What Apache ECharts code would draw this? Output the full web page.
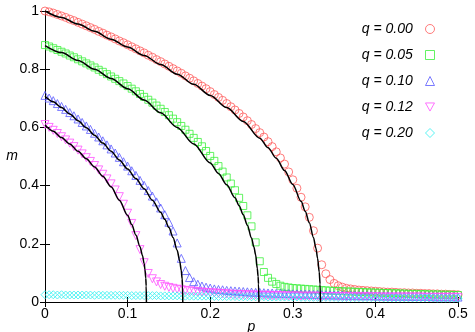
<!DOCTYPE html>
<html>
<head>
<meta charset="utf-8">
<script src="https://cdn.jsdelivr.net/npm/echarts@6/dist/echarts.min.js"></script>
<style>
  html, body { margin: 0; padding: 0; background: #fff; }
  #main { width: 475px; height: 332px; }
</style>
</head>
<body>
<div id="main"></div>
<script>
// simulation points, p sampled every 0.005
const pSim = [
  0, 0.005, 0.01, 0.015, 0.02, 0.025, 0.03, 0.035, 0.04, 0.045,
  0.05, 0.055, 0.06, 0.065, 0.07, 0.075, 0.08, 0.085, 0.09, 0.095,
  0.1, 0.105, 0.11, 0.115, 0.12, 0.125, 0.13, 0.135, 0.14, 0.145,
  0.15, 0.155, 0.16, 0.165, 0.17, 0.175, 0.18, 0.185, 0.19, 0.195,
  0.2, 0.205, 0.21, 0.215, 0.22, 0.225, 0.23, 0.235, 0.24, 0.245,
  0.25, 0.255, 0.26, 0.265, 0.27, 0.275, 0.28, 0.285, 0.29, 0.295,
  0.3, 0.305, 0.31, 0.315, 0.32, 0.325, 0.33, 0.335, 0.34, 0.345,
  0.35, 0.355, 0.36, 0.365, 0.37, 0.375, 0.38, 0.385, 0.39, 0.395,
  0.4, 0.405, 0.41, 0.415, 0.42, 0.425, 0.43, 0.435, 0.44, 0.445,
  0.45, 0.455, 0.46, 0.465, 0.47, 0.475, 0.48, 0.485, 0.49, 0.495,
  0.5
];

const mQ000 = [
  1.000, 0.997, 0.993, 0.988, 0.983, 0.978, 0.972, 0.967, 0.961, 0.955,
  0.949, 0.943, 0.937, 0.930, 0.924, 0.917, 0.911, 0.904, 0.897, 0.891,
  0.884, 0.877, 0.870, 0.863, 0.856, 0.848, 0.841, 0.833, 0.826, 0.818,
  0.810, 0.802, 0.794, 0.786, 0.777, 0.769, 0.760, 0.751, 0.742, 0.733,
  0.723, 0.713, 0.703, 0.693, 0.682, 0.671, 0.660, 0.648, 0.636, 0.623,
  0.610, 0.596, 0.582, 0.567, 0.551, 0.534, 0.516, 0.495, 0.474, 0.447,
  0.420, 0.391, 0.360, 0.327, 0.291, 0.245, 0.185, 0.128, 0.097, 0.077,
  0.064, 0.056, 0.051, 0.047, 0.045, 0.043, 0.041, 0.040, 0.039, 0.038,
  0.037, 0.036, 0.035, 0.034, 0.034, 0.033, 0.032, 0.032, 0.031, 0.031,
  0.030, 0.030, 0.029, 0.029, 0.028, 0.028, 0.027, 0.027, 0.026, 0.026,
  0.025
];

const mQ005 = [
  0.883, 0.878, 0.872, 0.866, 0.860, 0.854, 0.847, 0.841, 0.834, 0.827,
  0.820, 0.813, 0.806, 0.798, 0.791, 0.783, 0.775, 0.767, 0.759, 0.751,
  0.742, 0.733, 0.724, 0.715, 0.705, 0.695, 0.685, 0.675, 0.664, 0.653,
  0.642, 0.630, 0.618, 0.605, 0.592, 0.578, 0.564, 0.550, 0.535, 0.519,
  0.502, 0.485, 0.467, 0.448, 0.428, 0.407, 0.384, 0.358, 0.330, 0.298,
  0.260, 0.205, 0.140, 0.103, 0.083, 0.070, 0.062, 0.056, 0.052, 0.050,
  0.048, 0.047, 0.046, 0.045, 0.044, 0.043, 0.042, 0.041, 0.040, 0.039,
  0.038, 0.038, 0.037, 0.036, 0.036, 0.035, 0.034, 0.034, 0.033, 0.033,
  0.032, 0.032, 0.031, 0.031, 0.030, 0.030, 0.029, 0.029, 0.028, 0.028,
  0.028, 0.027, 0.027, 0.026, 0.026, 0.026, 0.025, 0.025, 0.025, 0.024,
  0.024
];

const mQ010 = [
  0.710, 0.701, 0.692, 0.682, 0.672, 0.662, 0.651, 0.640, 0.629, 0.617,
  0.605, 0.593, 0.580, 0.567, 0.554, 0.540, 0.526, 0.512, 0.497, 0.482,
  0.467, 0.451, 0.435, 0.418, 0.401, 0.383, 0.364, 0.344, 0.323, 0.300,
  0.274, 0.244, 0.203, 0.150, 0.108, 0.084, 0.070, 0.061, 0.055, 0.051,
  0.048, 0.045, 0.043, 0.042, 0.040, 0.039, 0.038, 0.037, 0.036, 0.035,
  0.034, 0.033, 0.033, 0.032, 0.031, 0.031, 0.030, 0.030, 0.029, 0.029,
  0.028, 0.028, 0.027, 0.027, 0.027, 0.026, 0.026, 0.025, 0.025, 0.025,
  0.024, 0.024, 0.024, 0.023, 0.023, 0.023, 0.022, 0.022, 0.022, 0.022,
  0.021, 0.021, 0.021, 0.021, 0.020, 0.020, 0.020, 0.020, 0.020, 0.019,
  0.019, 0.019, 0.019, 0.019, 0.018, 0.018, 0.018, 0.018, 0.018, 0.018,
  0.017
];

const mQ012 = [
  0.610, 0.600, 0.590, 0.579, 0.568, 0.557, 0.546, 0.534, 0.522, 0.509,
  0.496, 0.483, 0.469, 0.454, 0.439, 0.423, 0.406, 0.385, 0.362, 0.336,
  0.305, 0.270, 0.228, 0.180, 0.135, 0.098, 0.080, 0.069, 0.060, 0.054,
  0.050, 0.047, 0.044, 0.042, 0.040, 0.038, 0.037, 0.035, 0.034, 0.033,
  0.032, 0.031, 0.030, 0.029, 0.028, 0.027, 0.026, 0.026, 0.025, 0.025,
  0.024, 0.024, 0.023, 0.023, 0.023, 0.022, 0.022, 0.022, 0.021, 0.021,
  0.021, 0.021, 0.020, 0.020, 0.020, 0.020, 0.020, 0.019, 0.019, 0.019,
  0.019, 0.019, 0.019, 0.018, 0.018, 0.018, 0.018, 0.018, 0.018, 0.018,
  0.018, 0.017, 0.017, 0.017, 0.017, 0.017, 0.017, 0.017, 0.017, 0.017,
  0.017, 0.017, 0.016, 0.016, 0.016, 0.016, 0.016, 0.016, 0.016, 0.016,
  0.016
];

const mQ020 = [
  0.025, 0.025, 0.025, 0.024, 0.025, 0.024, 0.024, 0.024, 0.024, 0.024,
  0.024, 0.024, 0.023, 0.024, 0.023, 0.023, 0.023, 0.023, 0.023, 0.023,
  0.023, 0.022, 0.022, 0.022, 0.022, 0.022, 0.022, 0.022, 0.021, 0.021,
  0.021, 0.021, 0.021, 0.021, 0.020, 0.020, 0.020, 0.020, 0.020, 0.020,
  0.020, 0.019, 0.019, 0.019, 0.019, 0.019, 0.019, 0.018, 0.018, 0.018,
  0.018, 0.018, 0.018, 0.018, 0.017, 0.017, 0.017, 0.017, 0.017, 0.017,
  0.017, 0.017, 0.016, 0.016, 0.016, 0.016, 0.016, 0.016, 0.016, 0.016,
  0.016, 0.015, 0.015, 0.015, 0.015, 0.015, 0.015, 0.015, 0.015, 0.015,
  0.015, 0.015, 0.014, 0.014, 0.014, 0.014, 0.014, 0.014, 0.014, 0.014,
  0.014, 0.014, 0.014, 0.014, 0.014, 0.013, 0.013, 0.013, 0.013, 0.013,
  0.013
];

// theory curves (black)
const thP000 = [0, 0.02, 0.04, 0.06, 0.08, 0.10, 0.12, 0.14, 0.16, 0.18, 0.20, 0.22, 0.24, 0.26, 0.27, 0.28, 0.29, 0.30, 0.31, 0.315, 0.32, 0.325, 0.328, 0.33, 0.332, 0.333, 0.3335];
const thM000 = [1.000, 0.978, 0.955, 0.930, 0.903, 0.876, 0.847, 0.816, 0.783, 0.748, 0.710, 0.668, 0.620, 0.563, 0.530, 0.494, 0.452, 0.404, 0.346, 0.312, 0.272, 0.222, 0.185, 0.150, 0.103, 0.062, 0];
const thP005 = [0, 0.02, 0.04, 0.06, 0.08, 0.10, 0.12, 0.14, 0.16, 0.18, 0.20, 0.21, 0.22, 0.23, 0.235, 0.24, 0.245, 0.25, 0.253, 0.255, 0.257, 0.258, 0.2585, 0.259];
const thM005 = [0.881, 0.857, 0.830, 0.800, 0.768, 0.733, 0.694, 0.650, 0.600, 0.543, 0.478, 0.442, 0.403, 0.358, 0.331, 0.300, 0.264, 0.220, 0.188, 0.162, 0.115, 0.088, 0.062, 0];
const thP010 = [0, 0.01, 0.02, 0.03, 0.04, 0.05, 0.06, 0.07, 0.08, 0.09, 0.10, 0.11, 0.12, 0.13, 0.14, 0.145, 0.15, 0.155, 0.16, 0.163, 0.165, 0.166, 0.1665, 0.1668];
const thM010 = [0.707, 0.688, 0.668, 0.646, 0.623, 0.599, 0.573, 0.546, 0.518, 0.488, 0.457, 0.424, 0.389, 0.350, 0.308, 0.284, 0.256, 0.222, 0.178, 0.142, 0.108, 0.080, 0.055, 0];
const thP012 = [0, 0.01, 0.02, 0.03, 0.04, 0.05, 0.06, 0.07, 0.08, 0.09, 0.10, 0.105, 0.11, 0.115, 0.118, 0.12, 0.121, 0.122, 0.1225, 0.1228];
const thM012 = [0.608, 0.587, 0.565, 0.543, 0.518, 0.492, 0.464, 0.432, 0.396, 0.350, 0.298, 0.266, 0.230, 0.190, 0.160, 0.132, 0.112, 0.082, 0.055, 0];

const names = ['q = 0.00', 'q = 0.05', 'q = 0.10', 'q = 0.12', 'q = 0.20'];

const FONT = 'Liberation Sans';

function pairs(xs, ys) {
  return xs.map((x, i) => [x, ys[i]]);
}

function marks(name, ys, symbol, color, size, rotate) {
  return {
    name: name,
    type: 'scatter',
    data: pairs(pSim, ys),
    symbol: symbol,
    symbolSize: size,
    symbolRotate: rotate || 0,
    itemStyle: { color: 'rgba(0,0,0,0)', borderColor: color, borderWidth: 1 },
    z: 2
  };
}

function theory(xs, ys) {
  return {
    name: 'theory',
    type: 'line',
    data: pairs(xs, ys),
    showSymbol: false,
    smooth: 0.3,
    smoothMonotone: 'x',
    lineStyle: { color: '#000', width: 1.5 },
    z: 3
  };
}

const frame = { show: true, lineStyle: { color: '#000', width: 1 } };
const tick = { show: true, inside: true, length: 5, lineStyle: { color: '#000' } };
const label = { fontSize: 14, fontFamily: FONT, color: '#000' };
const nameStyle = { fontSize: 14, fontStyle: 'italic', fontFamily: FONT, color: '#000' };

const option = {
  animation: false,
  grid: { left: 45, right: 17, top: 11, bottom: 30, outerBoundsMode: 'none', containLabel: false },
  legend: {
    // the q = 0.12 marker points down, so its legend icon is given as a path
    data: [
      names[0], names[1], names[2],
      { name: names[3], icon: 'path://M0,0 L10,0 L5,9 Z' },
      names[4]
    ],
    orient: 'vertical',
    right: 35,
    top: 17,
    align: 'right',
    itemWidth: 9,
    itemHeight: 9,
    itemGap: 12,
    symbolKeepAspect: true,
    // two trailing spaces widen the gap between the text and the marker
    formatter: function (name) { return name + '  '; },
    textStyle: { fontSize: 14, fontStyle: 'italic', fontFamily: FONT, color: '#000' },
    itemStyle: { borderWidth: 1 }
  },
  xAxis: [
    {
      type: 'value', min: 0, max: 0.5, interval: 0.1, position: 'bottom',
      name: 'p', nameLocation: 'middle', nameGap: 18, nameMoveOverlap: false,
      nameTextStyle: nameStyle,
      axisLine: frame, axisTick: tick,
      axisLabel: Object.assign({ margin: 5 }, label),
      splitLine: { show: false }
    },
    {
      type: 'value', min: 0, max: 0.5, interval: 0.1, position: 'top',
      axisLine: frame, axisTick: tick, axisLabel: { show: false }, splitLine: { show: false }
    }
  ],
  yAxis: [
    {
      type: 'value', min: 0, max: 1, interval: 0.2, position: 'left',
      name: 'm', nameLocation: 'middle', nameGap: 27, nameRotate: 0, nameMoveOverlap: false,
      nameTextStyle: nameStyle,
      axisLine: frame, axisTick: tick,
      axisLabel: Object.assign({ margin: 6 }, label),
      splitLine: { show: false }
    },
    {
      type: 'value', min: 0, max: 1, interval: 0.2, position: 'right',
      axisLine: frame, axisTick: tick, axisLabel: { show: false }, splitLine: { show: false }
    }
  ],
  series: [
    marks(names[0], mQ000, 'circle', '#ff5a5a', 8),
    marks(names[1], mQ005, 'rect', '#3cf03c', 7),
    marks(names[2], mQ010, 'triangle', '#5a5aff', 8),
    marks(names[3], mQ012, 'triangle', '#ff50ff', 8, 180),
    marks(names[4], mQ020, 'diamond', '#30f0f0', 8),
    theory(thP000, thM000),
    theory(thP005, thM005),
    theory(thP010, thM010),
    theory(thP012, thM012)
  ]
};

const myChart = echarts.init(document.getElementById('main'), null, { renderer: 'canvas' });
myChart.setOption(option);
</script>
</body>
</html>
